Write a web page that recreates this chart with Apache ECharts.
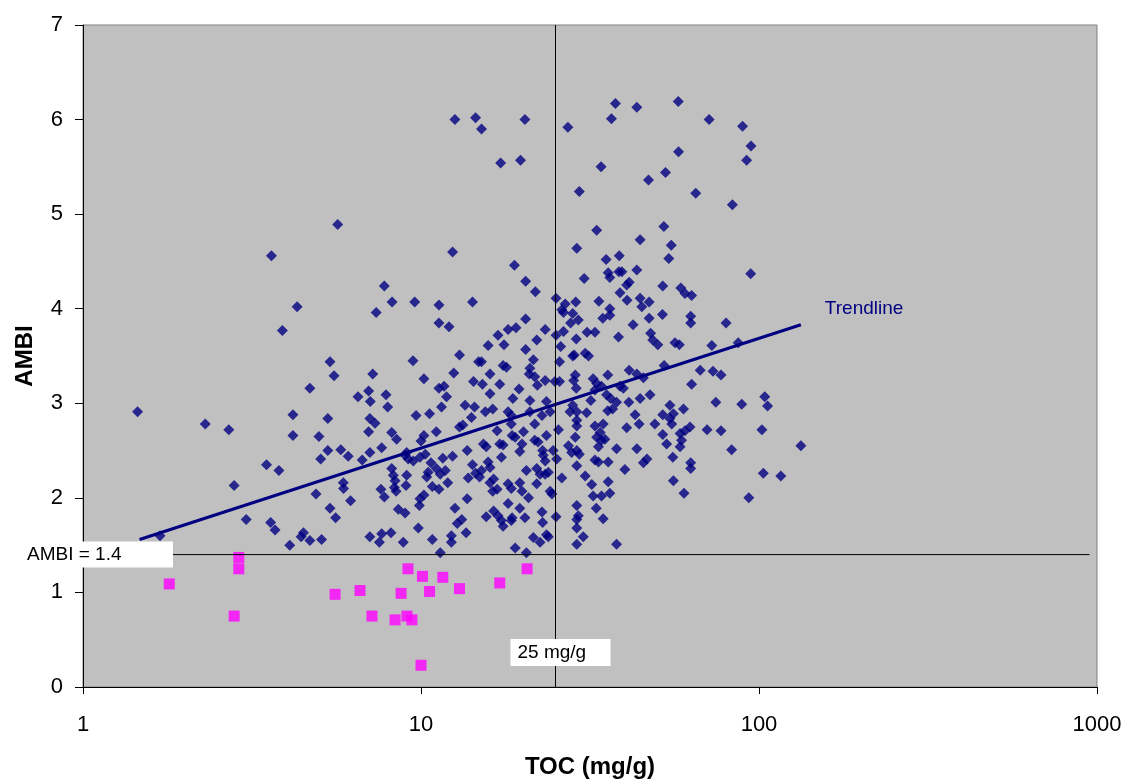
<!DOCTYPE html>
<html>
<head>
<meta charset="utf-8">
<script src="https://cdn.jsdelivr.net/npm/echarts/dist/echarts.min.js"></script>
<style>
  html, body { margin: 0; padding: 0; background: #fff; }
  #chart { width: 1129px; height: 784px; }
</style>
</head>
<body>
<div id="chart"></div>
<script>
// TOC (mg/g), AMBI pairs
var aboveLimit = [
  [1.45,2.91],[3.61,4.56],[4.30,4.02],[3.89,3.77],[5.38,3.44],[5.53,3.29],[4.69,3.16],[6.51,3.07],[4.18,2.88],[2.30,2.78],
  [2.70,2.72],[5.30,2.84],[4.18,2.66],[4.99,2.65],[5.30,2.50],[5.79,2.51],[6.09,2.44],[5.05,2.41],[6.70,2.40],[3.49,2.35],
  [3.80,2.29],[2.80,2.13],[5.89,2.16],[5.90,2.10],[4.89,2.04],[6.19,1.97],[5.38,1.89],[5.59,1.79],[3.04,1.77],[3.59,1.74],
  [3.70,1.66],[4.49,1.63],[4.42,1.59],[4.69,1.55],[5.08,1.56],[4.09,1.50],[1.69,1.60],
  [7.79,4.24],[7.37,3.96],[8.21,4.07],[9.58,4.07],[11.3,4.04],[14.2,4.07],[11.3,3.85],[12.1,3.81],[13.0,3.51],[9.47,3.45],
  [14.8,3.44],[7.20,3.31],[12.5,3.32],[10.2,3.26],[14.3,3.23],[11.3,3.16],[11.7,3.18],[11.9,3.07],[7.00,3.13],[7.88,3.09],
  [7.08,3.02],[7.97,2.96],[11.5,2.96],[13.5,2.98],[14.4,2.96],[9.67,2.87],[10.6,2.89],[14.1,2.85],[7.06,2.84],
  [7.31,2.79],[13.3,2.77],[13.0,2.75],[7.00,2.70],[8.19,2.69],[8.47,2.62],[10.2,2.66],[10.0,2.60],[11.1,2.70],[7.06,2.48],
  [7.65,2.53],[9.07,2.48],[9.17,2.41],[9.49,2.39],[9.93,2.43],[10.3,2.46],[8.97,2.45],[11.6,2.42],[12.4,2.44],[13.7,2.50],
  [14.2,2.35],[10.7,2.37],[8.19,2.31],[8.28,2.24],[8.38,2.18],[8.34,2.11],[8.44,2.07],[9.07,2.24],[9.03,2.13],[10.5,2.27],
  [10.4,2.22],[11.1,2.31],[11.4,2.25],[11.8,2.29],[10.8,2.12],[11.3,2.09],[12.0,2.16],[13.8,2.21],[14.5,2.26],[7.61,2.09],
  [7.79,2.01],[10.2,2.03],[9.93,1.99],[9.89,1.92],[8.57,1.88],[8.97,1.84],[12.6,1.89],[13.7,1.99],[13.2,1.77],[12.8,1.73],
  [9.82,1.68],[13.6,1.63],[7.06,1.59],[7.53,1.53],[7.65,1.62],[8.15,1.63],[8.86,1.53],[10.8,1.56],[12.3,1.60],[12.3,1.53],
  [11.4,1.42],
  [18.9,4.46],[20.4,4.29],[21.8,4.18],[25.1,4.11],[26.7,4.05],[26.1,3.99],[26.4,3.96],[28.7,4.07],[20.4,3.89],[18.1,3.78],
  [19.1,3.80],[23.3,3.78],[16.9,3.72],[22.0,3.67],[25.1,3.72],[15.8,3.61],[17.6,3.62],[20.4,3.57],[28.1,3.95],[29.2,3.88],
  [27.7,3.85],[26.4,3.76],[28.8,3.68],[25.9,3.60],[30.4,4.32],[35.3,4.52],[35.8,4.38],[36.2,4.33],[38.5,4.39],[39.3,4.39],
  [43.5,4.41],[41.3,4.28],[40.6,4.25],[38.8,4.17],[51.9,4.24],[33.6,4.08],[36.2,4.00],[36.2,3.93],[34.5,3.90],[40.7,4.09],
  [44.5,4.11],[45.0,4.02],[47.3,4.07],[47.3,3.90],[51.8,3.94],[42.4,3.83],[31.0,3.75],[32.7,3.75],[38.4,3.70],[47.8,3.74],
  [48.5,3.67],[50.2,3.62],[56.4,3.64],[15.1,3.44],[17.5,3.40],[17.9,3.38],[21.5,3.46],[28.1,3.50],[28.4,3.51],[30.6,3.53],
  [31.3,3.50],[25.7,3.44],[16.0,3.31],[21.0,3.37],[20.9,3.31],[21.7,3.28],[22.1,3.19],[23.3,3.24],[24.9,3.23],[25.7,3.23],
  [28.6,3.30],[28.3,3.24],[28.8,3.16],[32.3,3.26],[33.1,3.21],[34.2,3.18],[35.7,3.30],[38.8,3.18],[39.7,3.16],[41.3,3.35],
  [43.5,3.31],[45.5,3.27],[52.4,3.40],[15.2,3.20],[17.1,3.20],[19.5,3.15],[16.0,3.10],[18.7,3.05],[21.0,3.03],[23.5,3.02],
  [28.1,2.98],[27.6,2.91],[28.9,2.91],[31.8,3.03],[32.7,3.14],[35.4,3.09],[36.4,3.05],[37.9,3.01],[41.2,3.01],[44.5,3.05],
  [47.6,3.09],[15.5,2.91],[16.3,2.94],[18.1,2.91],[18.5,2.87],[21.0,2.91],[22.8,2.87],[24.1,2.91],[30.9,2.90],[35.7,2.92],
  [36.9,2.94],[43.0,2.88],[51.9,2.88],[54.5,2.98],
  [44.2,2.78],[40.6,2.74],[49.2,2.78],[54.5,2.84],[55.2,2.78],[18.5,2.78],[16.8,2.71],[20.1,2.70],[21.7,2.78],[25.5,2.72],
  [28.9,2.82],[28.9,2.76],[32.7,2.76],[34.6,2.78],[33.9,2.69],[33.1,2.64],[34.2,2.61],[35.0,2.62],[15.3,2.57],[15.6,2.54],
  [17.1,2.57],[17.5,2.56],[18.6,2.66],[19.0,2.64],[19.9,2.57],[19.6,2.49],[21.7,2.61],[22.2,2.59],[23.5,2.66],[22.9,2.50],
  [23.0,2.45],[23.3,2.39],[24.6,2.50],[25.2,2.41],[27.3,2.55],[27.9,2.48],[28.9,2.50],[29.4,2.46],[28.6,2.64],[33.5,2.54],
  [37.9,2.52],[43.5,2.52],[51.9,2.67],[53.3,2.57],[55.6,2.43],[46.6,2.41],[45.5,2.37],[17.3,2.43],[15.8,2.38],[16.0,2.32],
  [15.1,2.29],[20.5,2.29],[32.7,2.40],[33.5,2.38],[35.8,2.38],[28.9,2.34],[40.1,2.30],[22.0,2.31],[22.5,2.25],[23.3,2.25],
  [23.8,2.27],[14.9,2.22],[16.4,2.20],[16.0,2.16],[26.1,2.21],[30.6,2.23],[35.8,2.17],[55.8,2.18],[16.3,2.07],[16.8,2.09],
  [18.1,2.15],[18.5,2.10],[19.6,2.16],[19.9,2.07],[22.0,2.15],[24.1,2.07],[24.4,2.04],[32.0,2.14],[32.3,2.02],[34.2,2.02],
  [36.2,2.05],[20.8,2.00],[18.1,1.94],[19.6,1.89],[28.9,1.92],[33.0,1.89],[22.8,1.85],[15.6,1.80],[16.4,1.86],[16.9,1.81],
  [17.3,1.76],[17.5,1.70],[18.6,1.79],[18.5,1.76],[20.3,1.79],[25.1,1.80],[29.2,1.81],[28.9,1.77],[34.6,1.78],[22.9,1.74],
  [21.5,1.58],[22.5,1.53],[23.5,1.61],[23.8,1.59],[28.9,1.68],[30.2,1.59],[28.9,1.51],[37.9,1.51],[19.0,1.47],[20.5,1.42],
  [94.5,4.37],[58.7,4.22],[60.4,4.16],[63.2,4.14],[62.8,3.92],[62.8,3.85],[79.9,3.85],[58.1,3.62],[72.5,3.61],[86.8,3.64],
  [67.0,3.35],[73.1,3.34],[77.2,3.30],[63.2,3.20],[55.8,2.89],[59.8,2.94],[74.5,3.01],[88.9,2.99],[104,3.07],[106,2.97],
  [62.5,2.75],[60.4,2.71],[58.4,2.68],[59.0,2.61],[58.4,2.54],[70.2,2.72],[77.2,2.71],[102,2.72],[133,2.55],[83.0,2.51],
  [62.8,2.37],[62.8,2.31],[103,2.26],[116,2.23],[60.0,2.05],[93.3,2.00],
  [12.6,6.00],[14.5,6.02],[15.1,5.90],[20.3,6.00],[27.2,5.92],[17.2,5.54],[19.7,5.57],[5.67,4.89],[12.4,4.60],[28.9,4.64],
  [29.4,5.24],
  [37.6,6.17],[43.5,6.13],[57.7,6.19],[36.6,6.01],[71.2,6.00],[89.4,5.93],[94.7,5.72],[91.9,5.57],[57.8,5.66],[34.1,5.50],
  [52.9,5.44],[47.1,5.36],[65.0,5.22],[83.4,5.10],[33.1,4.83],[52.3,4.87],[44.5,4.73],[55.0,4.67],[38.6,4.56],[54.1,4.53]
];

var belowLimit = [
  [1.80,1.09],[2.89,1.37],[2.89,1.25],[2.80,0.75],[5.57,0.98],[6.60,1.02],[7.16,0.75],[8.38,0.71],[8.73,0.99],[9.09,0.75],
  [9.15,1.25],[9.40,0.71],[10.0,0.23],[10.1,1.17],[10.6,1.01],[11.6,1.16],[13.0,1.04],[17.1,1.10],[20.6,1.25]
];

var trendline = [[1.47, 1.56], [133, 3.83]];
var ambiLimit = 1.4;
var tocLimit = 25;
var tocRange = [1, 1000];
var ambiRange = [0, 7];
var hLineEnd = 950;

var font = '"Liberation Sans", Arial, sans-serif';
var navy = '#000080';

var chart = echarts.init(document.getElementById('chart'));
chart.setOption({
  animation: false,
  backgroundColor: '#fff',
  grid: {
    left: 83, right: 32, top: 25, bottom: 96,
    show: true, backgroundColor: '#c0c0c0', borderColor: '#808080', borderWidth: 1
  },
  xAxis: {
    type: 'log', logBase: 10, min: tocRange[0], max: tocRange[1],
    name: 'TOC (mg/g)', nameLocation: 'middle', nameGap: 68,
    nameTextStyle: { fontFamily: font, fontWeight: 'bold', fontSize: 24, color: '#000' },
    axisLine: { lineStyle: { color: '#000', width: 1 } },
    axisTick: { show: true, length: 7, lineStyle: { color: '#000' } },
    minorTick: { show: false },
    axisLabel: {
      fontFamily: font, fontSize: 22, color: '#000', margin: 27,
      formatter: function (v) { return String(v); }
    },
    splitLine: { show: false }
  },
  yAxis: {
    type: 'value', min: ambiRange[0], max: ambiRange[1], interval: 1,
    name: 'AMBI', nameLocation: 'middle', nameGap: 46, nameRotate: 90,
    nameTextStyle: { fontFamily: font, fontWeight: 'bold', fontSize: 24, color: '#000' },
    axisLine: { show: true, lineStyle: { color: '#000', width: 1 } },
    axisTick: { show: true, length: 8, lineStyle: { color: '#000' } },
    axisLabel: { fontFamily: font, fontSize: 22, color: '#000', margin: 20 },
    splitLine: { show: false }
  },
  series: [
    {
      type: 'scatter', data: aboveLimit, symbol: 'diamond', symbolSize: 11,
      itemStyle: { color: navy }, z: 2
    },
    {
      type: 'scatter', data: belowLimit, symbol: 'rect', symbolSize: 11,
      itemStyle: { color: '#ff00ff' }, z: 2
    },
    {
      type: 'line', data: trendline, symbol: 'none',
      lineStyle: { color: navy, width: 3 }, z: 3
    },
    {
      type: 'line', data: [[tocRange[0], ambiLimit], [hLineEnd, ambiLimit]], symbol: 'none',
      lineStyle: { color: '#000', width: 1 }, z: 4
    },
    {
      type: 'line', data: [[tocLimit, ambiRange[0]], [tocLimit, ambiRange[1]]], symbol: 'none',
      lineStyle: { color: '#000', width: 1 }, z: 4
    }
  ]
});

// annotation boxes anchored to the reference lines and the trendline end
var pA = chart.convertToPixel({ gridIndex: 0 }, [tocRange[0], ambiLimit]);
var pT = chart.convertToPixel({ gridIndex: 0 }, [tocLimit, ambiRange[0]]);
var pE = chart.convertToPixel({ gridIndex: 0 }, trendline[1]);
var labelFont = '19px ' + font;

chart.setOption({
  graphic: [
    { type: 'rect', z: 100, shape: { x: pA[0] - 63, y: pA[1] - 13, width: 153, height: 26 }, style: { fill: '#fff' } },
    { type: 'text', z: 101, x: pA[0] - 56, y: pA[1], style: { text: 'AMBI = 1.4', font: labelFont, fill: '#000', verticalAlign: 'middle' } },
    { type: 'rect', z: 100, shape: { x: pT[0] - 45, y: pT[1] - 48, width: 100, height: 27 }, style: { fill: '#fff' } },
    { type: 'text', z: 101, x: pT[0] - 38, y: pT[1] - 34, style: { text: '25 mg/g', font: labelFont, fill: '#000', verticalAlign: 'middle' } },
    { type: 'text', z: 101, x: pE[0] + 24, y: pE[1] - 16, style: { text: 'Trendline', font: labelFont, fill: navy, verticalAlign: 'middle' } }
  ]
});
</script>
</body>
</html>
